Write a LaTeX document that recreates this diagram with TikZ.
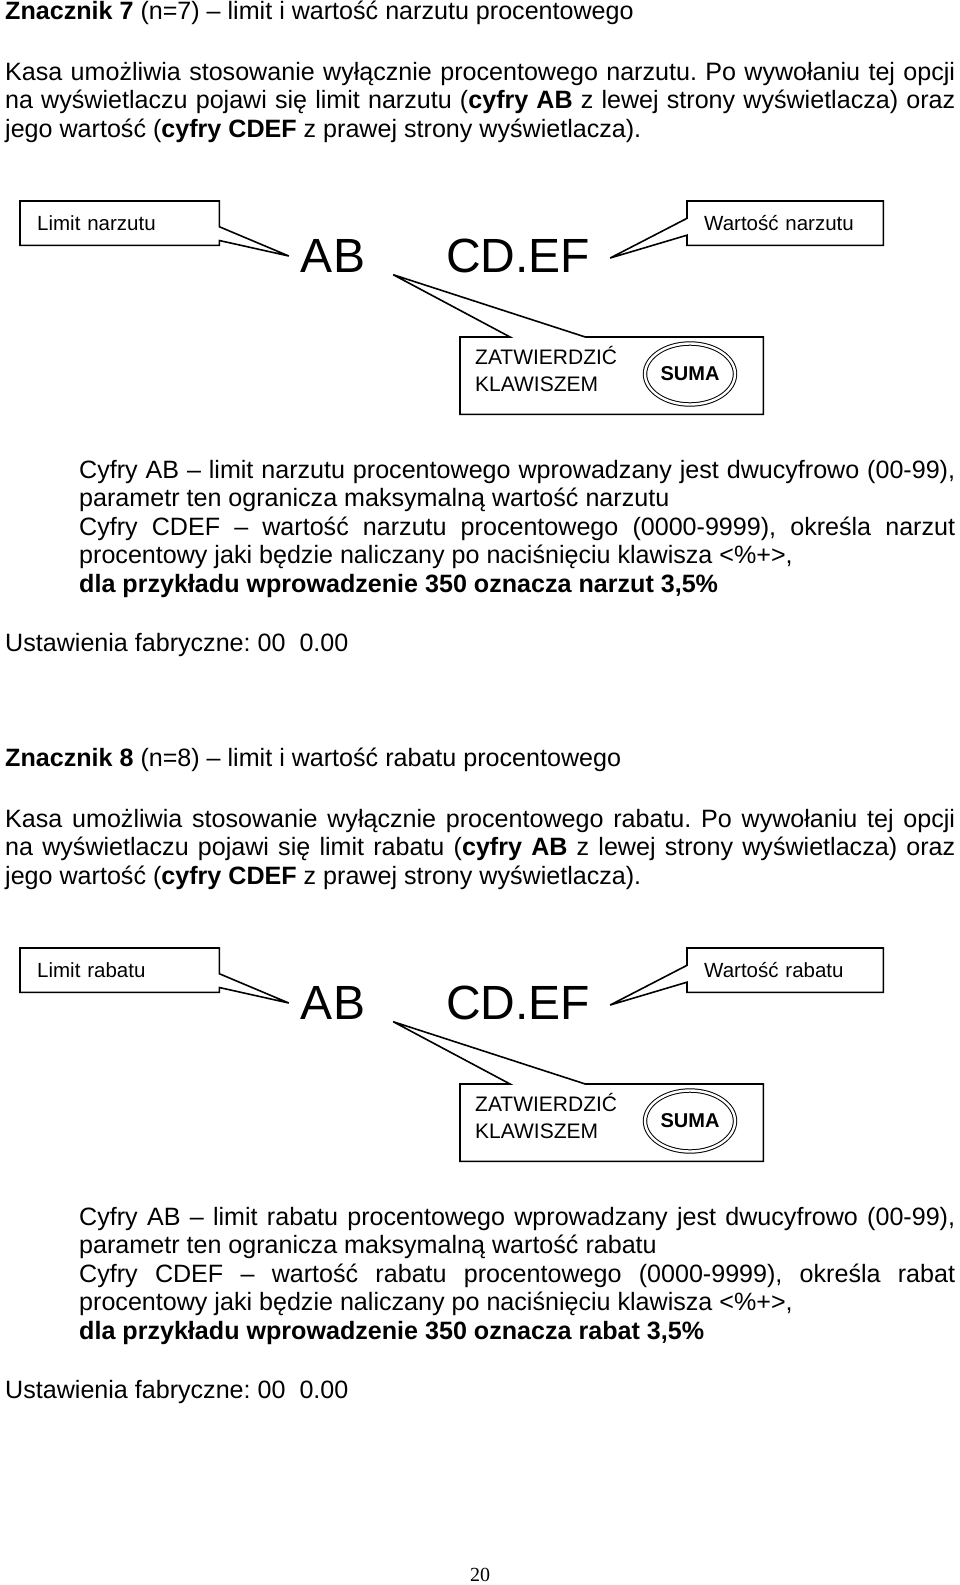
\documentclass[tikz,border=0pt]{standalone}
\usepackage{fontspec}
\setmainfont{Liberation Sans}
\newfontfamily\pagenofont{Liberation Serif}
\usetikzlibrary{calc, shapes.geometric}
\hyphenpenalty=10000
\exhyphenpenalty=10000
\frenchspacing

\begin{document}
\begin{tikzpicture}[x=1pt, y=-1pt,
	txt/.style={anchor=base west, inner sep=0pt, font=\fontsize{25.1}{28.6}\selectfont},
	para/.style={txt, align=justify, text width=#1},
	tagbox/.style={anchor=north west, inner xsep=17pt, inner ysep=0pt, minimum height=44pt,
		align=left, font=\fontsize{20.5}{24}\selectfont},
	big/.style={inner sep=0pt, font=\fontsize{48}{56}\selectfont},
	callout/.style={line width=1.6pt, line join=miter}]
	\useasboundingbox (0,0) rectangle (960,1585);
	
	\foreach \nr/\wyr/\wyrk/\dy in {7/narzutu/narzut/0, 8/rabatu/rabat/747} {
	\begin{scope}[yshift=-\dy pt]
		% opis znacznika
		\node[txt] (title\nr) at (5,19) {\textbf{Znacznik \nr} (n=\nr) \textendash{} limit i wartość \wyr{} procentowego};
		\node[para=950pt] (intro\nr) at (5,80) {Kasa umożliwia stosowanie wyłącznie procentowego \wyr. Po wywołaniu tej opcji\linebreak
			na wyświetlaczu pojawi się limit \wyr{} (\textbf{cyfry AB} z lewej strony wyświetlacza) oraz\linebreak
			jego wartość (\textbf{cyfry CDEF} z prawej strony wyświetlacza).};
		
		% wyswietlacz
		\node[big] (ab\nr) at (333,256) {AB};
		\node[big] (cdef\nr) at (518,256) {CD.EF};
		\coordinate (tipl\nr) at ([xshift=-12pt]ab\nr.west);
		\coordinate (tipr\nr) at ([xshift=20pt,yshift=-2pt]cdef\nr.east);
		\coordinate (tipz\nr) at ([xshift=28pt,yshift=-2pt]ab\nr.south east);
		
		% dymki
		\node[tagbox, text width=165pt] (limit\nr) at (20,201) {Limit \wyr};
		\node[tagbox, text width=162pt] (wart\nr) at (687,201) {Wartość \wyr};
		\draw[callout] (limit\nr.north west) -- (limit\nr.north east)
			-- ($(limit\nr.north east)!.58!(limit\nr.south east)$) -- (tipl\nr)
			-- ($(limit\nr.north east)!.89!(limit\nr.south east)$)
			-- (limit\nr.south east) -- (limit\nr.south west) -- cycle;
		\draw[callout] (wart\nr.north west) -- (wart\nr.north east) -- (wart\nr.south east)
			-- (wart\nr.south west) -- ($(wart\nr.north west)!.77!(wart\nr.south west)$) -- (tipr\nr)
			-- ($(wart\nr.north west)!.39!(wart\nr.south west)$) -- cycle;
		
		\node[anchor=north west, inner sep=0pt, minimum width=303pt, minimum height=77pt] (zatw\nr) at (460,337) {};
		\draw[callout] (zatw\nr.north west) -- ($(zatw\nr.north west)!.165!(zatw\nr.north east)$) -- (tipz\nr)
			-- ($(zatw\nr.north west)!.413!(zatw\nr.north east)$) -- (zatw\nr.north east)
			-- (zatw\nr.south east) -- (zatw\nr.south west) -- cycle;
		\node[anchor=west, inner sep=0pt, align=left, font=\fontsize{21}{27}\selectfont] (klaw\nr) at (475,369) {ZATWIERDZIĆ\\KLAWISZEM};
		\node[ellipse, draw, double, double distance=2.4pt, line width=1pt, minimum width=90pt, minimum height=61pt,
			inner sep=0pt, font=\bfseries\fontsize{20}{24}\selectfont] (suma\nr) at (690,374) {SUMA};
		
		% objasnienie
		\node[para=876pt] (opis\nr) at (79,478) {Cyfry AB \textendash{} limit \wyr{} procentowego wprowadzany jest dwucyfrowo (00-99),\linebreak
			parametr ten ogranicza maksymalną wartość \wyr\\
			Cyfry CDEF \textendash{} wartość \wyr{} procentowego (0000-9999), określa \wyrk\linebreak
			procentowy jaki będzie naliczany po naciśnięciu klawisza <\%+>,\\
			\textbf{dla przykładu wprowadzenie 350 oznacza \wyrk{} 3,5\%}};
		\node[txt] (fabr\nr) at (5,651) {Ustawienia fabryczne: 00\ \ 0.00};
	\end{scope}
	}
	
	\node[inner sep=0pt, font=\pagenofont\fontsize{20}{24}\selectfont] (strona) at (480,1575) {20};
\end{tikzpicture}
\end{document}
